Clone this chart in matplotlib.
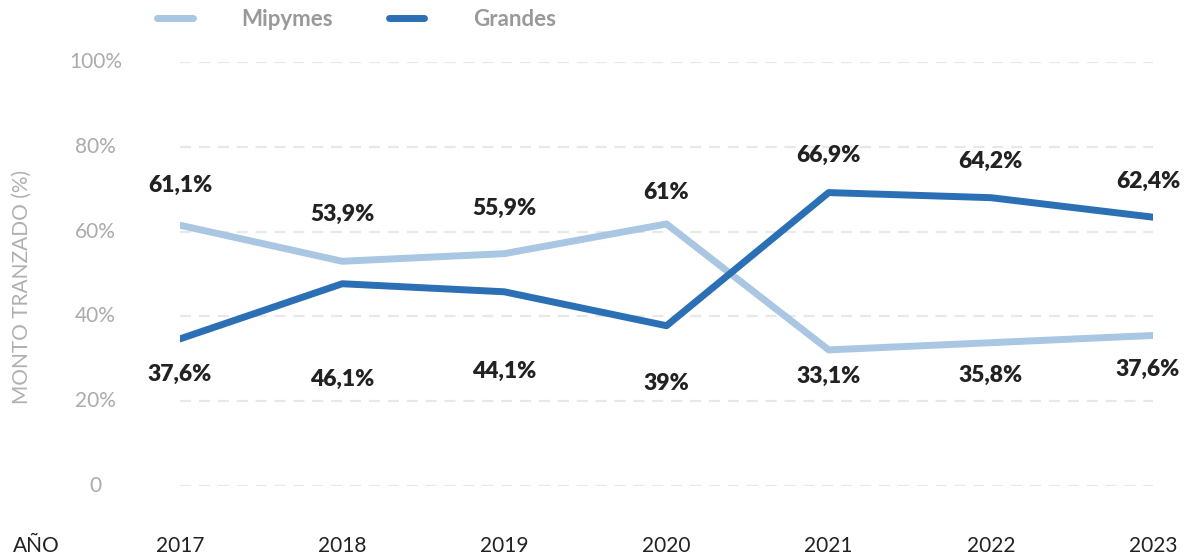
import matplotlib.pyplot as plt
from matplotlib.lines import Line2D

plt.rcParams['font.family'] = ['Lato', 'DejaVu Sans']

years = [2017, 2018, 2019, 2020, 2021, 2022, 2023]
# line values as drawn in the reference (%)
mipymes = [61.5, 53.0, 54.8, 61.8, 32.1, 33.8, 35.5]
grandes = [34.7, 47.7, 45.8, 37.8, 69.2, 68.0, 63.4]
# printed labels
top_labels = ['61,1%', '53,9%', '55,9%', '61%', '66,9%', '64,2%', '62,4%']
bottom_labels = ['37,6%', '46,1%', '44,1%', '39%', '33,1%', '35,8%', '37,6%']
yticks = [0, 20, 40, 60, 80, 100]
ytick_labels = ['0', '20%', '40%', '60%', '80%', '100%']

c_light = '#a9c6e2'
c_dark = '#2b6fb4'

fig = plt.figure(figsize=(11.9, 5.59), dpi=100)
ax = fig.add_axes([0.1513, 0.1306, 0.8176, 0.7585])

ax.plot(years, mipymes, color=c_light, lw=5, solid_capstyle='round', solid_joinstyle='round', zorder=3)
ax.plot(years, grandes, color=c_dark, lw=5, solid_capstyle='round', solid_joinstyle='round', zorder=4)

ax.set_xlim(years[0], years[-1])
ax.set_ylim(0, 100)
ax.set_yticks(yticks)
ax.set_yticklabels([])
for v, lab in zip(yticks, ytick_labels):
    ax.axhline(v, color='#e8e8e8', lw=1.6, ls=(0, (5, 3.5)), zorder=1)
    ax.annotate(lab, xy=(0, v), xycoords=('axes fraction', 'data'),
                xytext=(-61, 0), textcoords='offset points', ha='center', va='center',
                fontsize=15, color='#ababab')

ax.set_xticks(years)
ax.set_xticklabels([str(y) for y in years], fontsize=15, color='#222222')
ax.tick_params(axis='x', length=0, pad=36)
ax.tick_params(axis='y', length=0)
for s in ax.spines.values():
    s.set_visible(False)

# offsets of the value labels in pixels (converted to points)
top_off = [-40, -47, -45, -31, -37, -36, -36]
bot_off = [36, 96, 80, 58, 27, 33, 34]
dx = [0, 0, 0, 0, 0, 0, -5]
for i, y in enumerate(years):
    hi = max(mipymes[i], grandes[i])
    lo = min(mipymes[i], grandes[i])
    ax.annotate(top_labels[i], xy=(y, hi), xytext=(dx[i] * 0.72, -top_off[i] * 0.72),
                textcoords='offset points', ha='center', va='center',
                fontsize=16.5, fontweight='heavy', color='#222222')
    ax.annotate(bottom_labels[i], xy=(y, lo), xytext=(dx[i] * 0.72, -bot_off[i] * 0.72),
                textcoords='offset points', ha='center', va='center',
                fontsize=16.5, fontweight='heavy', color='#222222')

fig.text(22 / 1190, 1 - 287 / 559, 'MONTO TRANZADO (%)', rotation=90, ha='center', va='center',
         fontsize=15, color='#b0b0b0')
fig.text(13 / 1190, 1 - 546 / 559, 'AÑO', ha='left', va='center', fontsize=15, color='#222222')

handles = [Line2D([], [], color=c_light, lw=5, solid_capstyle='round'),
           Line2D([], [], color=c_dark, lw=5, solid_capstyle='round')]
fig.legend(handles, ['Mipymes', 'Grandes'], loc='center left', bbox_to_anchor=(137 / 1190, 1 - 19 / 559),
           ncol=2, frameon=False, labelcolor='#999999', handlelength=1.6,
           handletextpad=2.2, columnspacing=2.5, prop={'weight': 'bold', 'size': 16})

fig.savefig('out.png', dpi=100)
